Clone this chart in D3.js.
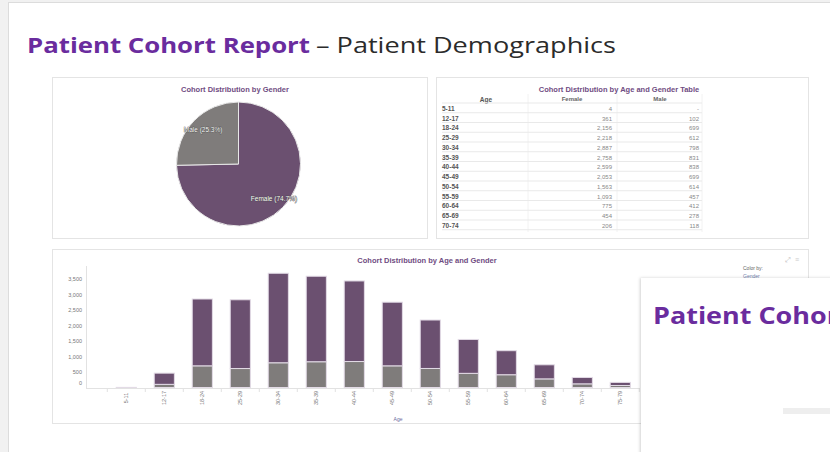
<!DOCTYPE html>
<html>
<head>
<meta charset="utf-8">
<script src="https://cdn.jsdelivr.net/npm/d3@7"></script>
<style>
  body { margin: 0; background: #f1f1f1; }
  text { font-family: "Liberation Sans", Arial, sans-serif; }
</style>
</head>
<body>
<script>
// cohort data
var ages = ["5-11", "12-17", "18-24", "25-29", "30-34", "35-39", "40-44", "45-49",
            "50-54", "55-59", "60-64", "65-69", "70-74", "75-79"];
var female = [4, 361, 2156, 2218, 2887, 2758, 2599, 2053, 1563, 1093, 775, 454, 206, 100];
var male = [0, 102, 699, 612, 798, 831, 838, 699, 614, 457, 412, 278, 118, 65];
var yTicks = [0, 500, 1000, 1500, 2000, 2500, 3000, 3500];

var purple = "#6b5070";
var grey = "#7f7c7b";
var titleColor = "#6f4c82";

var svgWidth = 830, svgHeight = 452;

var svg = d3.select("body")
  .append("svg")
  .attr("width", svgWidth)
  .attr("height", svgHeight);

// slide background
svg.append("rect").attr("x", 0).attr("y", 0).attr("width", svgWidth).attr("height", svgHeight).attr("fill", "#f1f1f1");
svg.append("rect").attr("x", 8.5).attr("y", 2.5).attr("width", 830).attr("height", 460)
  .attr("fill", "#fff").attr("stroke", "#dcdcdc");

// header (wide geometric font in the original, so stretch to its width)
svg.append("text").attr("x", 27).attr("y", 53)
  .attr("textLength", 283).attr("lengthAdjust", "spacingAndGlyphs")
  .attr("fill", "#6a2c9e")
  .style("font-family", "'Open Sans', sans-serif").style("font-size", "22px").style("font-weight", "bold")
  .text("Patient Cohort Report");
svg.append("text").attr("x", 316).attr("y", 53)
  .attr("textLength", 300).attr("lengthAdjust", "spacingAndGlyphs")
  .attr("fill", "#2b2b2b")
  .style("font-family", "'Open Sans', sans-serif").style("font-size", "22px")
  .text("– Patient Demographics");

function panel(x, y, w, h) {
  svg.append("rect").attr("x", x + 0.5).attr("y", y + 0.5).attr("width", w).attr("height", h)
    .attr("fill", "#fff").attr("stroke", "#e4e4e4");
}
panel(52, 77, 375, 161);
panel(436, 77, 372, 161);
panel(52, 249, 756, 174);

// ---------- pie ----------
var pieG = svg.append("g").attr("transform", "translate(238.5,164)");
svg.append("text").attr("x", 235).attr("y", 91.5).attr("text-anchor", "middle")
  .attr("fill", titleColor).style("font-size", "7.5px").style("font-weight", "bold")
  .text("Cohort Distribution by Gender");

var totals = [
  {name: "Female", value: d3.sum(female), color: purple},
  {name: "Male", value: d3.sum(male), color: grey}
];
var all = d3.sum(totals, d => d.value);
var radius = 62;
var pie = d3.pie().sort(null).value(d => d.value);
var arc = d3.arc().innerRadius(0).outerRadius(radius);
var labelArc = d3.arc().innerRadius(radius * 0.8).outerRadius(radius * 0.8);

pieG.selectAll("path")
  .data(pie(totals))
  .enter()
  .append("path")
  .attr("d", arc)
  .attr("fill", d => d.data.color)
  .attr("stroke", "#e8e8e8")
  .attr("stroke-width", 1);

pieG.selectAll(".lbl")
  .data(pie(totals))
  .enter()
  .append("text")
  .attr("class", "lbl")
  .attr("transform", d => `translate(${labelArc.centroid(d)})`)
  .attr("text-anchor", "middle")
  .attr("dy", "0.35em")
  .attr("fill", "#fff")
  .attr("stroke", "#444")
  .attr("stroke-width", 0.6)
  .attr("paint-order", "stroke")
  .style("font-size", "6.5px")
  .text(d => `${d.data.name} (${(d.data.value / all * 100).toFixed(1)}%)`);

// ---------- table ----------
svg.append("text").attr("x", 619).attr("y", 91.5).attr("text-anchor", "middle")
  .attr("fill", titleColor).style("font-size", "7.5px").style("font-weight", "bold")
  .text("Cohort Distribution by Age and Gender Table");

var fmt = d3.format(",");
var rowY = d3.scaleLinear().domain([0, 1]).range([108.5, 118.25]);
var tbl = svg.append("g");
svg.append("clipPath").attr("id", "tclip").append("rect").attr("x", 436).attr("y", 77).attr("width", 372).attr("height", 155);
tbl.attr("clip-path", "url(#tclip)");

// column separators
[528, 617, 702].forEach(function(x) {
  tbl.append("line").attr("x1", x).attr("x2", x).attr("y1", 94).attr("y2", 236).attr("stroke", "#f2f2f2");
});

tbl.append("text").attr("x", 486).attr("y", 101.5).attr("text-anchor", "middle").attr("fill", "#555")
  .style("font-size", "6.5px").style("font-weight", "bold").text("Age");
tbl.append("text").attr("x", 572).attr("y", 100.5).attr("text-anchor", "middle").attr("fill", "#666")
  .style("font-size", "6px").style("font-weight", "bold").text("Female");
tbl.append("text").attr("x", 660).attr("y", 100.5).attr("text-anchor", "middle").attr("fill", "#666")
  .style("font-size", "6px").style("font-weight", "bold").text("Male");

var rows = tbl.selectAll(".row")
  .data(ages)
  .enter()
  .append("g")
  .attr("transform", (d, i) => `translate(0, ${rowY(i)})`);

rows.append("line").attr("x1", 442).attr("x2", 702).attr("y1", -5.5).attr("y2", -5.5).attr("stroke", "#e9e9e9");
rows.append("text").attr("x", 442).attr("y", 2.3).attr("fill", "#555")
  .style("font-size", "6.5px").style("font-weight", "bold").text(d => d);
rows.append("text").attr("x", 612).attr("y", 2.3).attr("text-anchor", "end").attr("fill", "#888")
  .style("font-size", "6px").text((d, i) => fmt(female[i]));
rows.append("text").attr("x", 699).attr("y", 2.3).attr("text-anchor", "end").attr("fill", "#888")
  .style("font-size", "6px").text((d, i) => male[i] ? fmt(male[i]) : "-");

// ---------- stacked bars ----------
svg.append("text").attr("x", 427).attr("y", 263).attr("text-anchor", "middle")
  .attr("fill", titleColor).style("font-size", "7.5px").style("font-weight", "bold")
  .text("Cohort Distribution by Age and Gender");

var xScale = d3.scaleBand().domain(ages).range([107.3, 639.3]).paddingInner(0.47).paddingOuter(0.235);
var yScale = d3.scaleLinear().domain([0, 3500]).range([387.5, 279]);

var chartG = svg.append("g");

var stackData = ages.map((a, i) => ({age: a, Male: male[i], Female: female[i]}));
var series = d3.stack().keys(["Male", "Female"])(stackData);
var colors = {Male: grey, Female: purple};

chartG.selectAll(".series")
  .data(series)
  .enter()
  .append("g")
  .attr("fill", d => colors[d.key])
  .selectAll("rect")
  .data(d => d)
  .enter()
  .append("rect")
  .attr("x", d => xScale(d.data.age))
  .attr("width", xScale.bandwidth())
  .attr("y", d => yScale(d[1]))
  .attr("height", d => yScale(d[0]) - yScale(d[1]))
  .attr("stroke", "#e3dbe6")
  .attr("stroke-width", 1);

// y axis
var leftAxis = d3.axisLeft(yScale).tickValues(yTicks).tickFormat(fmt).tickSize(0).tickPadding(4);
var yAx = chartG.append("g").attr("transform", "translate(86,0)").call(leftAxis);
yAx.select(".domain").remove();
yAx.selectAll("text").attr("fill", "#777").style("font-size", "5.5px").attr("dy", (d) => d === 0 ? "-0.5em" : "0.32em");
chartG.append("line").attr("x1", 86.5).attr("x2", 86.5).attr("y1", 266).attr("y2", 388).attr("stroke", "#e2e2e2");

// x axis
var bottomAxis = d3.axisBottom(xScale).tickSize(0).tickPadding(5);
var xAx = chartG.append("g").attr("transform", "translate(0,388)").call(bottomAxis);
xAx.select(".domain").remove();
xAx.selectAll("text")
  .attr("fill", "#777")
  .style("font-size", "5.5px")
  .attr("text-anchor", "middle")
  .attr("transform", "translate(0,10) rotate(-90)")
  .attr("y", 0).attr("dy", "0.35em");
chartG.append("line").attr("x1", 86).attr("x2", 640).attr("y1", 388.5).attr("y2", 388.5).attr("stroke", "#e2e2e2");
chartG.selectAll(".sep")
  .data(ages.concat(["end"]))
  .enter()
  .append("line")
  .attr("x1", (d, i) => 107.3 + i * xScale.step())
  .attr("x2", (d, i) => 107.3 + i * xScale.step())
  .attr("y1", 389).attr("y2", 392).attr("stroke", "#e2e2e2");

svg.append("text").attr("x", 398).attr("y", 421).attr("text-anchor", "middle").attr("fill", "#6a6aa0")
  .style("font-size", "5px").text("Age");

// legend / toolbar text
svg.append("text").attr("x", 743).attr("y", 270).attr("fill", "#666").style("font-size", "5px").text("Color by:");
svg.append("text").attr("x", 743).attr("y", 277.5).attr("fill", "#6a7aa8").style("font-size", "5px").text("Gender");
svg.append("text").attr("x", 785).attr("y", 262).attr("fill", "#bbb").style("font-size", "7px").text("⤢");
svg.append("text").attr("x", 795).attr("y", 262).attr("fill", "#ccc").style("font-size", "7px").text("≡");

// ---------- overlapping next slide ----------
var defs = svg.append("defs");
var f = defs.append("filter").attr("id", "shadow").attr("x", "-10%").attr("y", "-10%").attr("width", "130%").attr("height", "130%");
f.append("feDropShadow").attr("dx", -1).attr("dy", 0).attr("stdDeviation", 1.5).attr("flood-color", "#000").attr("flood-opacity", 0.18);
svg.append("rect").attr("x", 641).attr("y", 278).attr("width", 200).attr("height", 190)
  .attr("fill", "#fff").attr("filter", "url(#shadow)");
svg.append("text").attr("x", 653).attr("y", 324)
  .attr("textLength", 296).attr("lengthAdjust", "spacingAndGlyphs")
  .attr("fill", "#6a2c9e")
  .style("font-family", "'Open Sans', sans-serif").style("font-size", "24px").style("font-weight", "bold")
  .text("Patient Cohort Report");
svg.append("rect").attr("x", 783).attr("y", 408).attr("width", 50).attr("height", 6).attr("fill", "#eeeeee");
</script>
</body>
</html>
